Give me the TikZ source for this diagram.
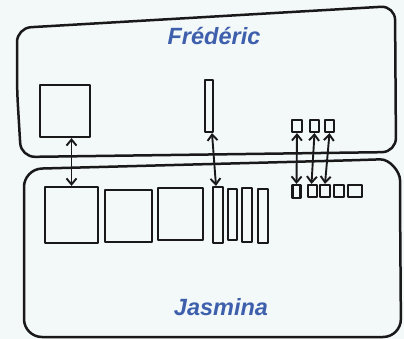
\documentclass[tikz,border=0pt]{standalone}
\usepackage{fontspec}
\setmainfont{Liberation Sans}
\usetikzlibrary{arrows.meta}
\definecolor{paper}{RGB}{243,248,249}
\definecolor{ink}{RGB}{25,25,25}
\definecolor{namecol}{RGB}{62,95,172}
\tikzset{
  pen/.style={draw=ink, line width=2.5pt, line join=round, line cap=round},
  blk/.style={pen, line width=2.2pt, rectangle, inner sep=0pt, minimum width=#1},
  tall/.style={minimum height=#1},
  link/.style={pen, line width=1.9pt, {Straight Barb[length=6pt,width=10pt,line width=1.9pt]}-{Straight Barb[length=6pt,width=10pt,line width=1.9pt]}},
  who/.style={font=\bfseries\itshape\fontsize{23.5}{23.5}\selectfont, text=namecol, inner sep=0pt, anchor=base}
}
\begin{document}
\begin{tikzpicture}[x=1pt,y=-1pt]
\fill[paper] (0,0) rectangle (404,339);
\useasboundingbox (0,0) rectangle (404,339);

% the two frames
\draw[pen, rounded corners=14pt] (17,90) -- (17,28) -- (395,6) -- (396,152) -- (21,157) -- cycle;
\draw[pen, rounded corners=18pt] (24,250) -- (24,169) -- (362,160)
  .. controls (390,159) and (400,172) .. (400,198) -- (401,337) -- (24,337) -- cycle;

% names
\node[who] (fred) at (214,45) {Frédéric};
\node[who] (jas) at (221,315) {Jasmina};

% blocks on top
\node[blk=50pt, tall=52pt] (fsq) at (65,111) {};
\node[blk=8pt, tall=52pt] (fbar) at (209,106) {};
\node[blk=10pt, tall=12pt] (fs1) at (297,126) {};
\node[blk=9pt, tall=12pt] (fs2) at (314.5,126) {};
\node[blk=9pt, tall=12pt] (fs3) at (329.5,126) {};

% blocks below
\node[blk=53pt, tall=56pt] (j1) at (71.5,215) {};
\node[blk=47pt, tall=52pt] (j2) at (128.5,216) {};
\node[blk=45pt, tall=52pt] (j3) at (180.5,214) {};
\node[blk=10pt, tall=56pt] (n1) at (218,215) {};
\node[blk=9pt, tall=51pt] (n2) at (232.5,214.5) {};
\node[blk=10pt, tall=54pt] (n3) at (247,215) {};
\node[blk=10pt, tall=54pt] (n4) at (263,216) {};
\node[blk=8pt, tall=13pt] (s1) at (296.5,191.5) {};
\node[blk=9pt, tall=12pt] (s2) at (312.5,191) {};
\node[blk=10pt, tall=12pt] (s3) at (325,191) {};
\node[blk=10pt, tall=12pt] (s4) at (339,191) {};
\node[blk=14pt, tall=12pt] (s5) at (355,191) {};

% exchanges between the two frames
\draw[link] (fsq.south -| j1.north) -- (j1.north);
\draw[link] ([xshift=3pt]fbar.south) -- ([xshift=-2pt]n1.north);
\draw[link] (fs1.south) -- (s1.north);
\draw[link] (fs2.south) -- ([xshift=-1pt]s2.north);
\draw[link] (fs3.south) -- (s3.north);
\end{tikzpicture}
\end{document}
